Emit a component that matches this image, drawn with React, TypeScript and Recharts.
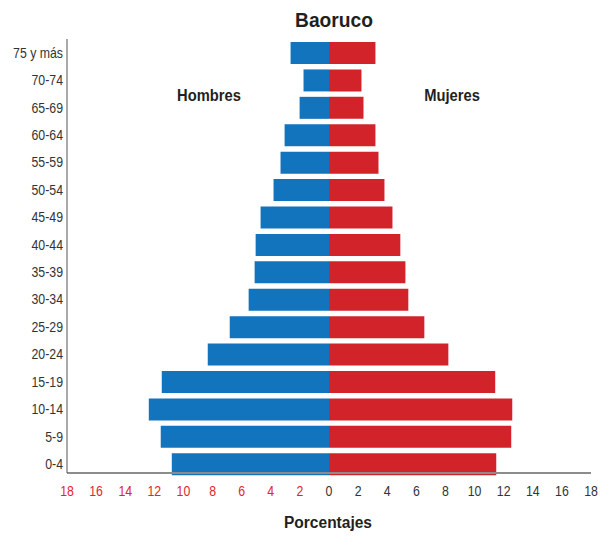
import React from 'react';
import { BarChart, Bar, XAxis, YAxis } from 'recharts';

// age groups, top to bottom as drawn
const ageGroups = [
  '75 y más', '70-74', '65-69', '60-64', '55-59', '50-54', '45-49', '40-44',
  '35-39', '30-34', '25-29', '20-24', '15-19', '10-14', '5-9', '0-4',
];
// percentages
const hombres = [2.64, 1.75, 2.02, 3.05, 3.33, 3.81, 4.7, 5.04, 5.11, 5.52, 6.82, 8.33, 11.49, 12.38, 11.56, 10.8];
const mujeres = [3.19, 2.23, 2.37, 3.19, 3.4, 3.81, 4.36, 4.9, 5.25, 5.45, 6.55, 8.2, 11.42, 12.59, 12.52, 11.49];
const xTicks = [-18, -16, -14, -12, -10, -8, -6, -4, -2, 0, 2, 4, 6, 8, 10, 12, 14, 16, 18];

const data = ageGroups.map((g, i) => ({ group: g, hombres: -hombres[i], mujeres: mujeres[i] }));

const FONT = "'Liberation Sans', Arial, sans-serif";

// narrow look of the original labels
const XTick = (props: any) => {
  const { x, y, payload } = props;
  return (
    <text transform={`translate(${x},${y}) scale(0.88,1)`} dy="0.71em" textAnchor="middle"
      fontFamily={FONT} fontSize={14} fill={payload.value < 0 ? '#e3242b' : '#333'}>
      {Math.abs(payload.value)}
    </text>
  );
};

const YTick = (props: any) => {
  const { x, y, payload } = props;
  return (
    <text transform={`translate(${x},${y}) scale(0.88,1)`} dy="0.355em" textAnchor="end"
      fontFamily={FONT} fontSize={14} fill="#333">
      {payload.value}
    </text>
  );
};

const label = (text: string, cx: number, cy: number, size: number, sx: number) => (
  <div style={{
    position: 'absolute', left: cx, top: cy - size / 2, transform: `translateX(-50%) scaleX(${sx})`,
    fontFamily: FONT, fontWeight: 'bold', fontSize: size, lineHeight: `${size}px`,
    color: '#231f20', whiteSpace: 'nowrap',
  }}>{text}</div>
);

const App = () => {
  return (
    <div style={{ position: 'absolute', left: 0, top: 0, width: 608, height: 537, background: '#fff' }}>
      <BarChart width={608} height={537} data={data} layout="vertical" stackOffset="sign"
        margin={{ top: 39, right: 17, bottom: 34, left: 0 }}>
        <XAxis type="number" domain={[-18, 18]} ticks={xTicks} allowDataOverflow
          axisLine={{ stroke: '#8c8c8c', strokeWidth: 2 }} tickLine={false} tickSize={0} tickMargin={13}
          height={30} tick={<XTick />} />
        <YAxis type="category" dataKey="group" width={67} padding={{ top: 0, bottom: -4.7 }}
          axisLine={{ stroke: '#555' }} tickLine={false} tickSize={0} tickMargin={4}
          tick={<YTick />} interval={0} />
        <Bar dataKey="hombres" stackId="a" fill="#1174bd" barSize={22} isAnimationActive={false} />
        <Bar dataKey="mujeres" stackId="a" fill="#d2232a" barSize={22} isAnimationActive={false} />
      </BarChart>
      {label('Baoruco', 334, 20, 20, 0.96)}
      {label('Hombres', 209, 96, 16, 0.92)}
      {label('Mujeres', 452, 96, 16, 0.92)}
      {label('Porcentajes', 328, 523, 16, 0.97)}
    </div>
  );
};

export default App;
